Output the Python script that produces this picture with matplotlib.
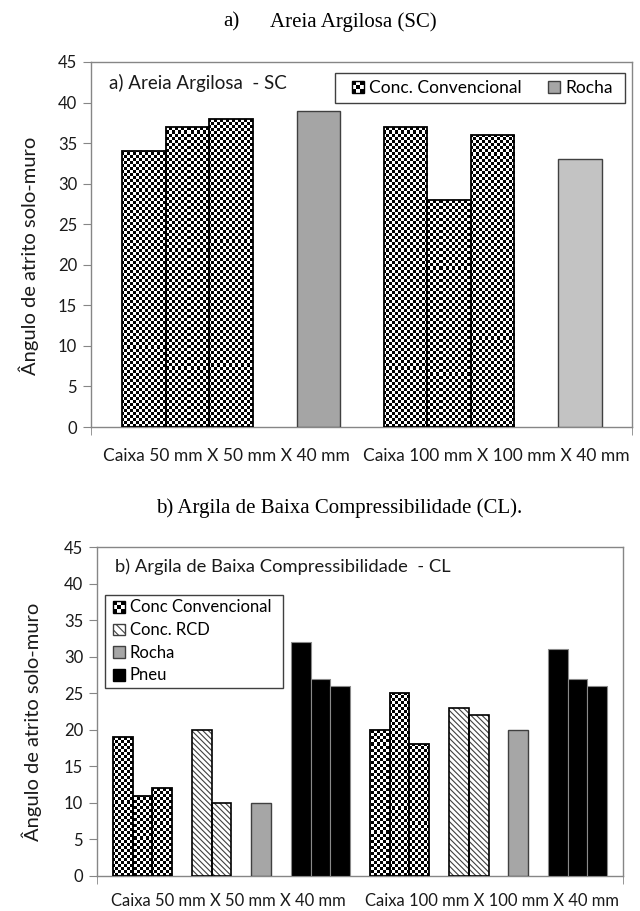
import numpy as np
import matplotlib.pyplot as plt
from matplotlib.patches import Rectangle, Patch
from matplotlib.legend_handler import HandlerBase

plt.rcParams['font.family'] = ['Lato', 'DejaVu Sans']
plt.rcParams['hatch.linewidth'] = 0.8

# valores do ângulo de atrito solo-muro (graus)
caixas = ["Caixa 50 mm X 50 mm X 40 mm", "Caixa 100 mm X 100 mm X 40 mm"]
conc_sc = [[34, 37, 38], [37, 28, 36]]
rocha_sc = [39, 33]
conc_cl = [[19, 11, 12], [20, 25, 18]]
rcd_cl = [[20, 10], [23, 22]]
rocha_cl = [10, 20]
pneu_cl = [[32, 27, 26], [31, 27, 26]]

W, H = 640, 911
AXCOL = '#868686'
TXT = '#1a1a1a'
HATCH_RCD = '\\' * 6


def px(x, y):
    return x / W, 1 - y / H


def posicoes(tamanhos, inicio):
    # barras de cada material ficam juntas, com um espaço de uma barra entre grupos
    x = inicio
    res = []
    for n in tamanhos:
        res.append(x + np.arange(n))
        x += n + 1
    return res


def xadrez(ax, barras, cel=3.0):
    bb = ax.get_window_extent()
    ny, nx = int(bb.height / cel), int(bb.width / cel)
    tab = np.indices((ny, nx)).sum(axis=0) % 2
    ext = (*ax.get_xlim(), *ax.get_ylim())
    for b in barras:
        im = ax.imshow(tab, cmap='gray', vmin=0, vmax=1, extent=ext,
                       interpolation='nearest', aspect='auto', zorder=2)
        im.set_clip_path(b)


class HandlerXadrez(HandlerBase):
    def create_artists(self, legend, orig_handle, xdescent, ydescent,
                       width, height, fontsize, trans):
        s = min(width, height)
        x0 = -xdescent + (width - s) / 2
        y0 = -ydescent + (height - s) / 2
        n = 3
        c = s / n
        arts = [Rectangle((x0, y0), s, s, facecolor='white', lw=0, transform=trans)]
        for i in range(n):
            for j in range(n):
                if (i + j) % 2 == 0:
                    arts.append(Rectangle((x0 + i * c, y0 + j * c), c, c,
                                          facecolor='black', lw=0, transform=trans))
        arts.append(Rectangle((x0, y0), s, s, facecolor='none', edgecolor='black',
                              lw=1, transform=trans))
        return arts


def caixa_legenda(ax, x0, x1, y0, y1):
    # moldura da legenda em pixels da figura
    fig = ax.figure
    r = Rectangle(px(x0, y1), (x1 - x0) / W, (y1 - y0) / H, transform=fig.transFigure,
                  facecolor='white', edgecolor='#404040', lw=1, zorder=4.5)
    ax.add_patch(r)
    r.set_clip_on(False)


def estilo(ax, xmax, pad, fs):
    ax.set_xlim(0, xmax)
    ax.set_ylim(0, 45)
    ax.set_yticks(range(0, 46, 5))
    for s in ax.spines.values():
        s.set_color(AXCOL)
        s.set_linewidth(1)
    ax.tick_params(axis='y', direction='out', length=6, color=AXCOL,
                   labelsize=12, pad=4, labelcolor=TXT)
    ax.set_xticks([xmax / 4, 3 * xmax / 4], caixas)
    ax.tick_params(axis='x', which='major', length=0, labelsize=fs,
                   pad=pad, labelcolor=TXT)
    ax.set_xticks([0, xmax], minor=True)
    ax.tick_params(axis='x', which='minor', direction='out', length=6, color=AXCOL)


fig = plt.figure(figsize=(W / 100, H / 100), dpi=100)
ax1 = fig.add_axes([91 / W, 1 - 427 / H, 541 / W, 365 / H])
ax2 = fig.add_axes([97 / W, 1 - 876 / H, 526 / W, 329 / H])

# a) Areia argilosa
xmax1 = 12.42
p1 = posicoes([3, 1, 3, 1], 0.72)
estilo(ax1, xmax1, 15, 12.5)
conc_bars = []
for xs, vals in zip([p1[0], p1[2]], conc_sc):
    conc_bars += list(ax1.bar(xs, vals, width=1, align='edge', facecolor='none',
                              edgecolor='black', lw=1.3, zorder=3))
xadrez(ax1, conc_bars)
ax1.bar(p1[1], rocha_sc[0], width=1, align='edge', color='#a5a5a5',
        edgecolor='#404040', lw=1, zorder=3)
ax1.bar(p1[3], rocha_sc[1], width=1, align='edge', color='#c3c3c3',
        edgecolor='#404040', lw=1, zorder=3)

h_conc = Patch(label='Conc. Convencional')
h_rocha = Patch(facecolor='#a6a6a6', edgecolor='#404040', label='Rocha')
caixa_legenda(ax1, 335, 625, 73, 103)
ax1.legend(handles=[h_conc, h_rocha], handler_map={h_conc: HandlerXadrez()},
           loc='center', bbox_to_anchor=px(482, 88), bbox_transform=fig.transFigure,
           ncol=2, fontsize=12.5, handlelength=0.7, handleheight=0.7,
           handletextpad=0.3, columnspacing=1.5, borderpad=0, borderaxespad=0,
           frameon=False)
ax1.text(*px(109, 83), 'a) Areia Argilosa  - SC', transform=fig.transFigure,
         fontsize=13.5, va='center', ha='left', color=TXT)

# b) Argila de baixa compressibilidade
xmax2 = 26.6
p2 = posicoes([3, 2, 1, 3, 3, 2, 1, 3], 0.8)
estilo(ax2, xmax2, 12, 12)
conc_bars = []
for xs, vals in zip([p2[0], p2[4]], conc_cl):
    conc_bars += list(ax2.bar(xs, vals, width=1, align='edge', facecolor='none',
                              edgecolor='black', lw=1.3, zorder=3))
xadrez(ax2, conc_bars)
for xs, vals in zip([p2[1], p2[5]], rcd_cl):
    ax2.bar(xs, vals, width=1, align='edge', facecolor='white', edgecolor='#404040',
            hatch=HATCH_RCD, lw=0, zorder=3)
    ax2.bar(xs, vals, width=1, align='edge', facecolor='none', edgecolor='black',
            lw=1.2, zorder=4)
for xs, v in zip([p2[2], p2[6]], rocha_cl):
    ax2.bar(xs, v, width=1, align='edge', color='#a6a6a6', edgecolor='#404040',
            lw=1, zorder=3)
for xs, vals in zip([p2[3], p2[7]], pneu_cl):
    ax2.bar(xs, vals, width=1, align='edge', color='black', edgecolor='#8a8a8a',
            lw=0.8, zorder=3)

h_conc2 = Patch(label='Conc Convencional')
h_rcd = Patch(facecolor='white', edgecolor='#404040', hatch='\\\\\\\\', label='Conc. RCD')
h_rocha2 = Patch(facecolor='#a6a6a6', edgecolor='#404040', label='Rocha')
h_pneu = Patch(facecolor='black', edgecolor='black', label='Pneu')
caixa_legenda(ax2, 105, 283, 595, 688)
ax2.legend(handles=[h_conc2, h_rcd, h_rocha2, h_pneu],
           handler_map={h_conc2: HandlerXadrez()},
           loc='center left', bbox_to_anchor=px(113, 641.5), bbox_transform=fig.transFigure,
           fontsize=12, handlelength=0.7, handleheight=0.7,
           handletextpad=0.3, labelspacing=0.4, borderpad=0, borderaxespad=0,
           frameon=False)
ax2.text(*px(115, 567), 'b) Argila de Baixa Compressibilidade  - CL',
         transform=fig.transFigure, fontsize=13.2, va='center', ha='left', color=TXT)

# eixo y e títulos das figuras
fig.text(*px(29, 256), 'Ângulo de atrito solo-muro', rotation=90, fontsize=14.5,
         ha='center', va='center', color=TXT)
fig.text(*px(32, 722), 'Ângulo de atrito solo-muro', rotation=90, fontsize=14.5,
         ha='center', va='center', color=TXT)

serif = ['Liberation Serif', 'DejaVu Serif']
fig.text(*px(223, 22), 'a)', family=serif, fontsize=15, va='center', ha='left')
fig.text(*px(270, 22), 'Areia Argilosa (SC)', family=serif, fontsize=15,
         va='center', ha='left')
fig.text(*px(156, 508), 'b) Argila de Baixa Compressibilidade (CL).', family=serif,
         fontsize=15, va='center', ha='left')

fig.savefig('out.png', dpi=100)
